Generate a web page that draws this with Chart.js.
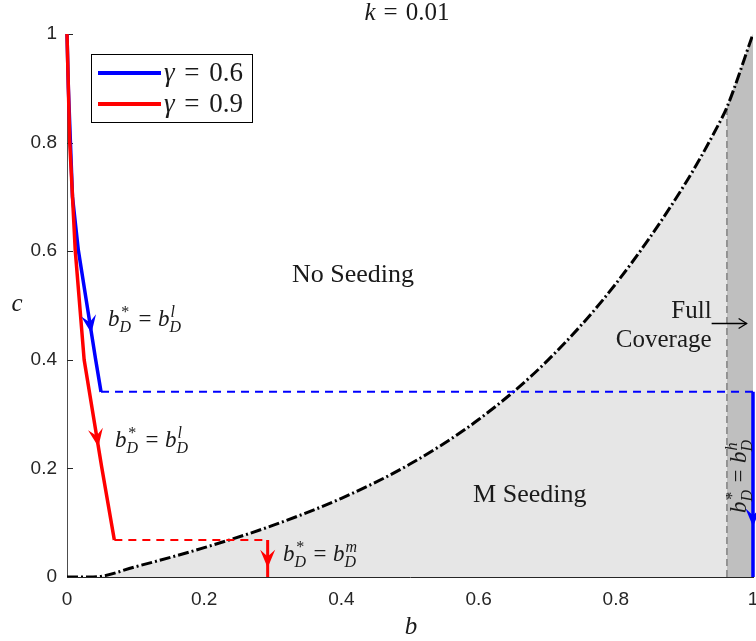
<!DOCTYPE html>
<html><head><meta charset="utf-8">
<script src="https://cdn.jsdelivr.net/npm/chart.js@4/dist/chart.umd.min.js"></script>
<style>html,body{margin:0;padding:0;background:#fff}</style>
</head><body>
<canvas id="c" width="756" height="641"></canvas>
<script>
// ---------- data ----------
const boundaryB = [0, 0.038, 0.1, 0.2, 0.3, 0.4, 0.5, 0.6, 0.7, 0.8, 0.9, 0.95, 0.962, 1.0];
const boundaryC = [0, 0, 0.019, 0.054, 0.095, 0.145, 0.208, 0.290, 0.398, 0.540, 0.722, 0.834, 0.865, 1.0];
const fullCoverB = 0.962;
const blueB = [0, 0.002, 0.008, 0.0165, 0.0418, 0.0496];
const blueC = [1, 0.9, 0.7, 0.602, 0.4, 0.341];
const redB = [0, 0.004, 0.012, 0.025, 0.0505, 0.069];
const redC = [1, 0.8, 0.602, 0.4, 0.203, 0.068];
const blueThresholdC = 0.341;
const redThresholdC = 0.068;
const redMediumB = 0.2925;
const xTickValues = [0, 0.2, 0.4, 0.6, 0.8, 1];
const yTickValues = [0, 0.2, 0.4, 0.6, 0.8, 1];
const legendLabels = ['0.6', '0.9'];
// arrowheads: tip and a point behind it on the same path
const arrowTips = [
  {color: '#0000ff', tip: [0.0356, 0.449], from: [0.0165, 0.602]},
  {color: '#ff0000', tip: [0.0457, 0.24], from: [0.025, 0.4]},
  {color: '#ff0000', tip: [0.2925, 0.017], from: [0.2925, 0.068]},
  {color: '#0000ff', tip: [1, 0.093], from: [1, 0.341]}
];

const zip = (bs, cs) => bs.map((b, i) => ({x: b, y: cs[i]}));
const boundaryPts = zip(boundaryB, boundaryC);
const darkPts = boundaryPts.filter(p => p.x >= fullCoverB);

Chart.defaults.font.family = '"Liberation Sans", Arial, sans-serif';
const SERIF = '"Liberation Serif", "Times New Roman", serif';

function drawMath(ctx, x, y, tokens, size, align) {
  const small = Math.round(size * 0.7);
  const items = [];
  let w = 0;
  for (const tk of tokens) {
    if (tk.gap !== undefined) { items.push({gap: tk.gap * size}); w += tk.gap * size; continue; }
    if (tk.t !== undefined) {
      const font = (tk.it ? 'italic ' : '') + size + 'px ' + SERIF;
      ctx.font = font;
      const tw = ctx.measureText(tk.t).width;
      items.push({t: tk.t, font, w: tw}); w += tw; continue;
    }
    const font = 'italic ' + small + 'px ' + SERIF;
    ctx.font = font;
    const w1 = tk.sup ? ctx.measureText(tk.sup).width : 0;
    const w2 = tk.sub ? ctx.measureText(tk.sub).width : 0;
    const ww = Math.max(w1, w2) + 1;
    items.push({sup: tk.sup, sub: tk.sub, font, w: ww}); w += ww;
  }
  let cx = align === 'center' ? x - w / 2 : (align === 'right' ? x - w : x);
  ctx.textBaseline = 'alphabetic';
  ctx.textAlign = 'left';
  for (const it of items) {
    if (it.gap !== undefined) { cx += it.gap; continue; }
    ctx.font = it.font;
    if (it.t !== undefined) { ctx.fillText(it.t, cx, y); cx += it.w; continue; }
    if (it.sup) ctx.fillText(it.sup, cx + 1, y - size * 0.40);
    if (it.sub) ctx.fillText(it.sub, cx, y + size * 0.26);
    cx += it.w;
  }
  return w;
}

function bdLabel(letter) {
  return [{t: 'b', it: true}, {sup: '*', sub: 'D'}, {gap: 0.28}, {t: '='}, {gap: 0.28}, {t: 'b', it: true}, {sup: letter, sub: 'D'}];
}

const annot = {
  id: 'annot',
  beforeDatasetsDraw(chart) {
    const ctx = chart.ctx, ys = chart.scales.y, ca = chart.chartArea;
    ctx.save();
    ctx.strokeStyle = '#262626'; ctx.lineWidth = 1;
    for (const v of yTickValues) {
      const py = Math.round(ys.getPixelForValue(v)) + 0.5;
      ctx.beginPath(); ctx.moveTo(ca.left, py); ctx.lineTo(ca.left + 6, py); ctx.stroke();
    }
    ctx.restore();
  },
  afterDatasetsDraw(chart) {
    const ctx = chart.ctx, xs = chart.scales.x, ys = chart.scales.y;
    const X = v => xs.getPixelForValue(v), Y = v => ys.getPixelForValue(v);
    ctx.save();
    for (const a of arrowTips) {
      const tx = X(a.tip[0]), ty = Y(a.tip[1]);
      const fx = X(a.from[0]), fy = Y(a.from[1]);
      let dx = tx - fx, dy = ty - fy; const L = Math.hypot(dx, dy); dx /= L; dy /= L;
      const len = 18, hw = 7.5;
      const bx = tx - dx * len, by = ty - dy * len;
      const nx = -dy, ny = dx;
      ctx.fillStyle = a.color;
      ctx.beginPath();
      ctx.moveTo(tx, ty);
      ctx.lineTo(bx + nx * hw, by + ny * hw);
      ctx.lineTo(tx - dx * len * 0.62, ty - dy * len * 0.62);
      ctx.lineTo(bx - nx * hw, by - ny * hw);
      ctx.closePath(); ctx.fill();
    }
    ctx.restore();

    ctx.save();
    ctx.fillStyle = '#1a1a1a';
    ctx.font = '26px ' + SERIF; ctx.textAlign = 'left'; ctx.textBaseline = 'alphabetic';
    ctx.fillText('No Seeding', X(0.328), Y(0.5433));
    ctx.fillText('M Seeding', X(0.592), Y(0.138));
    ctx.font = '25px ' + SERIF;
    ctx.textAlign = 'right';
    ctx.fillText('Full', X(0.9397), Y(0.477));
    ctx.fillText('Coverage', X(0.9397), Y(0.4236));
    const ay = Math.round(Y(0.4683)) + 0.5, ax0 = X(0.9397), ax1 = X(0.9907);
    ctx.strokeStyle = '#000'; ctx.lineWidth = 1.3;
    ctx.beginPath(); ctx.moveTo(ax0, ay); ctx.lineTo(ax1, ay); ctx.stroke();
    ctx.beginPath(); ctx.moveTo(ax1 - 8, ay - 5); ctx.lineTo(ax1, ay); ctx.lineTo(ax1 - 8, ay + 5); ctx.stroke();
    drawMath(ctx, X(0.0598), Y(0.4622), bdLabel('l'), 23, 'left');
    drawMath(ctx, X(0.070), Y(0.2394), bdLabel('l'), 23, 'left');
    drawMath(ctx, X(0.315), Y(0.0295), bdLabel('m'), 23, 'left');
    ctx.save();
    ctx.translate(X(0.9905), Y(0.118));
    ctx.rotate(-Math.PI / 2);
    drawMath(ctx, 0, 0, bdLabel('h'), 23, 'left');
    ctx.restore();
    ctx.restore();
  },
  afterDraw(chart) {
    const ctx = chart.ctx, ca = chart.chartArea;
    ctx.save();
    const lx0 = 91.5, ly0 = 54.5, lx1 = 252.5, ly1 = 122.5;
    ctx.fillStyle = '#fff'; ctx.fillRect(lx0, ly0, lx1 - lx0, ly1 - ly0);
    ctx.strokeStyle = '#000'; ctx.lineWidth = 1; ctx.strokeRect(lx0, ly0, lx1 - lx0, ly1 - ly0);
    const colors = ['#0000ff', '#ff0000'];
    const rows = [73, 104];
    legendLabels.forEach((lab, i) => {
      ctx.strokeStyle = colors[i]; ctx.lineWidth = 4;
      ctx.beginPath(); ctx.moveTo(98, rows[i]); ctx.lineTo(161, rows[i]); ctx.stroke();
      ctx.fillStyle = '#1a1a1a';
      drawMath(ctx, 164, rows[i] + 8, [{t: 'γ', it: true}, {gap: 0.36}, {t: '='}, {gap: 0.36}, {t: lab}], 27, 'left');
    });
    ctx.fillStyle = '#1a1a1a';
    drawMath(ctx, 407, 20, [{t: 'k', it: true}, {gap: 0.32}, {t: '='}, {gap: 0.32}, {t: '0.01'}], 25, 'center');
    drawMath(ctx, (ca.left + ca.right) / 2 + 1, 634, [{t: 'b', it: true}], 25, 'center');
    drawMath(ctx, 17, 311, [{t: 'c', it: true}], 25, 'center');
    ctx.restore();
  }
};

const lineBase = {pointRadius: 0, pointHoverRadius: 0, fill: false, tension: 0};

new Chart(document.getElementById('c'), {
  type: 'line',
  data: {
    datasets: [
      Object.assign({}, lineBase, {label: 'regionM', data: boundaryPts, borderWidth: 0, borderColor: 'rgba(0,0,0,0)', backgroundColor: '#e6e6e6', fill: 'origin', cubicInterpolationMode: 'monotone', order: 20}),
      Object.assign({}, lineBase, {label: 'regionFull', data: darkPts, borderWidth: 0, borderColor: 'rgba(0,0,0,0)', backgroundColor: '#bfbfbf', fill: 'origin', cubicInterpolationMode: 'monotone', order: 19}),
      Object.assign({}, lineBase, {label: 'fullLine', data: [{x: fullCoverB, y: 0}, {x: fullCoverB, y: boundaryC[boundaryB.indexOf(fullCoverB)]}], borderColor: '#808080', borderWidth: 1.5, borderDash: [7, 4], order: 18}),
      Object.assign({}, lineBase, {label: 'boundary', data: boundaryPts, borderColor: '#000', borderWidth: 3, borderDash: [11, 3, 2, 3], cubicInterpolationMode: 'monotone', order: 17}),
      Object.assign({}, lineBase, {label: 'blueDash', data: [{x: blueB[blueB.length - 1], y: blueThresholdC}, {x: 1, y: blueThresholdC}], borderColor: '#0000ff', borderWidth: 2, borderDash: [8, 6], order: 16}),
      Object.assign({}, lineBase, {label: 'redDash', data: [{x: redB[redB.length - 1], y: redThresholdC}, {x: redMediumB, y: redThresholdC}], borderColor: '#ff0000', borderWidth: 2, borderDash: [8, 6], order: 15}),
      Object.assign({}, lineBase, {label: 'blueHigh', data: [{x: 1, y: blueThresholdC}, {x: 1, y: 0}], borderColor: '#0000ff', borderWidth: 3.5, clip: false, order: 14}),
      Object.assign({}, lineBase, {label: 'redMed', data: [{x: redMediumB, y: redThresholdC}, {x: redMediumB, y: 0}], borderColor: '#ff0000', borderWidth: 3, order: 13}),
      Object.assign({}, lineBase, {label: 'γ = 0.6', data: zip(blueB, blueC), borderColor: '#0000ff', borderWidth: 3.5, clip: false, order: 12}),
      Object.assign({}, lineBase, {label: 'γ = 0.9', data: zip(redB, redC), borderColor: '#ff0000', borderWidth: 3.5, clip: false, order: 11})
    ]
  },
  options: {
    responsive: false, animation: false, devicePixelRatio: 1,
    parsing: false,
    layout: {padding: {left: 0, right: 3, top: 34, bottom: 0}},
    plugins: {legend: {display: false}, tooltip: {enabled: false}, title: {display: false}, filler: {drawTime: 'beforeDatasetsDraw'}},
    scales: {
      x: {
        type: 'linear', min: 0, max: 1,
        afterBuildTicks: s => { s.ticks = xTickValues.map(v => ({value: v})); },
        ticks: {color: '#262626', font: {size: 19}, padding: 11, maxRotation: 0, autoSkip: false, callback: v => String(v)},
        grid: {display: false, drawTicks: false},
        border: {display: true, color: '#262626'},
        afterFit: s => { s.height = 64; s.paddingLeft = 0; s.paddingRight = 0; }
      },
      y: {
        type: 'linear', min: 0, max: 1,
        afterBuildTicks: s => { s.ticks = yTickValues.map(v => ({value: v})); },
        ticks: {color: '#262626', font: {size: 19}, padding: 10, autoSkip: false, callback: v => String(v)},
        grid: {display: false, drawTicks: false},
        border: {display: true, color: '#4d4d4d'},
        afterFit: s => { s.width = 67; s.paddingTop = 0; s.paddingBottom = 0; }
      }
    }
  },
  plugins: [annot]
});
</script>
</body></html>
